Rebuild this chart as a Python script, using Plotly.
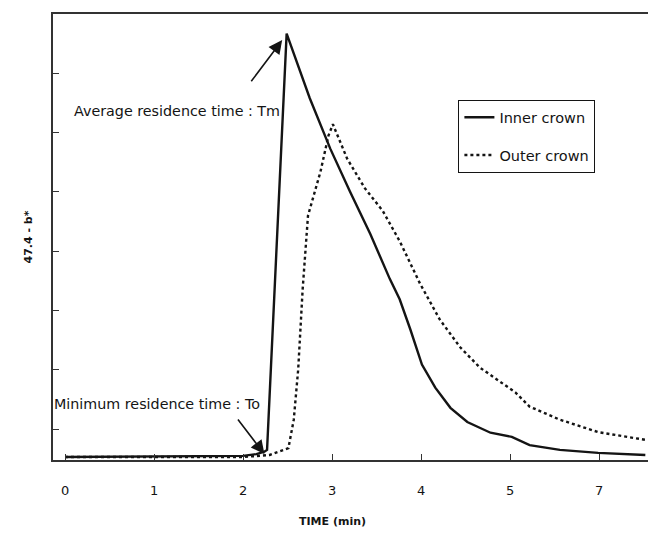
import plotly.graph_objects as go

# ---- data ----
x_tick_vals = [0, 1, 2, 3, 4, 5, 6]
x_tick_text = ["0", "1", "2", "3", "4", "5", "7"]
y_tick_vals = [5.2, 15.2, 25.2, 35.2, 45.2, 55.2, 65.2]

inner_t = [0.0, 2.0, 2.15, 2.24, 2.27, 2.49, 2.75, 2.98, 3.2, 3.43, 3.65, 3.76, 3.88,
           4.01, 4.16, 4.33, 4.52, 4.78, 5.02, 5.22, 5.56, 5.99, 6.52]
inner_v = [0.5, 0.7, 1.0, 1.4, 1.7, 71.9, 61.0, 52.5, 45.3, 38.1, 30.5, 27.1, 22.0,
           16.1, 12.2, 8.8, 6.4, 4.6, 3.9, 2.5, 1.7, 1.2, 0.85]

outer_t = [0.0, 2.0, 2.3, 2.51, 2.57, 2.62, 2.67, 2.73, 2.87, 2.96, 3.01, 3.17, 3.37,
           3.57, 3.76, 3.99, 4.21, 4.44, 4.66, 4.89, 5.06, 5.22, 5.56, 5.99, 6.52]
outer_v = [0.5, 0.5, 0.85, 2.0, 6.8, 15.3, 28.8, 41.2, 48.6, 54.7, 56.6, 50.8, 45.8,
           42.0, 36.9, 29.7, 23.7, 19.0, 15.6, 13.2, 11.4, 9.0, 6.8, 4.7, 3.4]

# annotation anchors (data coords)
tm_label = "Average residence time : Tm"
t0_label = "Minimum residence time : To"
tm_arrow_tail = (2.08, 63.6)
tm_arrow_head = (2.44, 70.8)
t0_arrow_tail = (1.93, 7.1)
t0_arrow_head = (2.24, 1.0)
tm_text_pos = (2.44, 58.8)
t0_text_pos = (2.21, 9.5)

FONT = "DejaVu Sans"
INK = "#141414"

fig = go.Figure()
fig.add_trace(go.Scatter(x=inner_t, y=inner_v, mode="lines", name="Inner crown",
                         line=dict(color=INK, width=2.4), legendgroup="a"))
fig.add_trace(go.Scatter(x=outer_t, y=outer_v, mode="lines", name="Outer crown",
                         line=dict(color=INK, width=2.4, dash="dot"), legendgroup="b"))

fig.add_annotation(x=tm_arrow_head[0], y=tm_arrow_head[1], ax=tm_arrow_tail[0], ay=tm_arrow_tail[1],
                   xref="x", yref="y", axref="x", ayref="y", text="", showarrow=True,
                   arrowhead=2, arrowsize=1.7, arrowwidth=1.6, arrowcolor=INK)
fig.add_annotation(x=t0_arrow_head[0], y=t0_arrow_head[1], ax=t0_arrow_tail[0], ay=t0_arrow_tail[1],
                   xref="x", yref="y", axref="x", ayref="y", text="", showarrow=True,
                   arrowhead=2, arrowsize=1.7, arrowwidth=1.6, arrowcolor=INK)
fig.add_annotation(x=tm_text_pos[0], y=tm_text_pos[1], xref="x", yref="y", text=tm_label,
                   showarrow=False, xanchor="right", yanchor="middle",
                   font=dict(family=FONT, size=14.3, color=INK))
fig.add_annotation(x=t0_text_pos[0], y=t0_text_pos[1], xref="x", yref="y", text=t0_label,
                   showarrow=False, xanchor="right", yanchor="middle",
                   font=dict(family=FONT, size=14.3, color=INK))
fig.add_annotation(x=0.47, y=-0.137, xref="paper", yref="paper", text="<b>TIME (min)</b>",
                   showarrow=False, xanchor="center", yanchor="middle",
                   font=dict(family=FONT, size=11, color=INK))

fig.update_layout(
    width=648, height=547,
    margin=dict(l=53, r=0, t=14, b=87),
    paper_bgcolor="white", plot_bgcolor="white",
    font=dict(family=FONT, size=13, color=INK),
    legend=dict(x=0.681, y=0.807, xanchor="left", yanchor="top",
                bordercolor=INK, borderwidth=1.2, bgcolor="white",
                font=dict(family=FONT, size=14.5, color=INK), tracegroupgap=16),
)
fig.update_xaxes(range=[-0.135, 6.55], tickvals=x_tick_vals, ticktext=x_tick_text,
                 ticks="inside", ticklen=6, tickwidth=1.3, tickcolor="#333",
                 showline=True, linecolor="#333", linewidth=1.5, mirror=True,
                 showgrid=False, zeroline=False, ticklabelstandoff=18,
                 tickfont=dict(family=FONT, size=13, color=INK))
fig.update_yaxes(range=[0, 75.2], tickvals=y_tick_vals, showticklabels=False,
                 ticks="inside", ticklen=6, tickwidth=1.3, tickcolor="#333",
                 showline=True, linecolor="#333", linewidth=1.5,
                 showgrid=False, zeroline=False,
                 title=dict(text="<b>47.4 - b*</b>", standoff=16,
                            font=dict(family=FONT, size=11, color=INK)))

fig.write_html("out.html", config={"displayModeBar": False},
               post_script="document.body.style.margin='0px';")
